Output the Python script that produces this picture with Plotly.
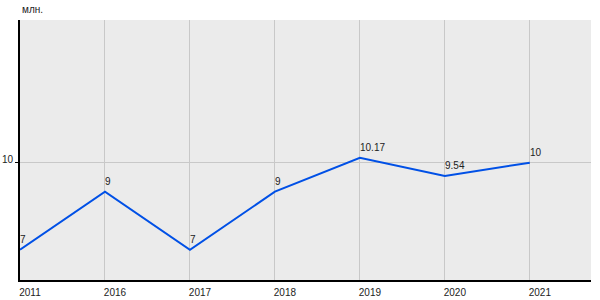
import plotly.graph_objects as go

years = ["2011", "2016", "2017", "2018", "2019", "2020", "2021"]
values = [7, 9, 7, 9, 10.17, 9.54, 10]
labels = ["7", "9", "7", "9", "10.17", "9.54", "10"]
unit = "млн."

fig = go.Figure()
fig.add_trace(go.Scatter(
    x=years, y=values, mode="lines",
    line=dict(color="#0050e6", width=2),
    cliponaxis=False, hoverinfo="skip",
))
annotations = [dict(text=unit, xref="paper", yref="paper", x=0, y=1,
                    xanchor="left", yanchor="bottom", yshift=3, showarrow=False,
                    font=dict(size=10, color="#222"))]
for i, (yv, t) in enumerate(zip(values, labels)):
    annotations.append(dict(x=i, y=yv, xref="x", yref="y", text=t, showarrow=False,
                            xanchor="left", yanchor="bottom", xshift=-2, yshift=3,
                            font=dict(family="Liberation Sans, Arial", size=10, color="#222")))
fig.update_layout(
    width=600, height=300,
    margin=dict(l=20, r=9, t=20, b=20),
    paper_bgcolor="white", plot_bgcolor="#ebebeb",
    showlegend=False,
    font=dict(family="Liberation Sans, Arial", size=10, color="#222"),
    annotations=annotations,
)
fig.update_xaxes(type="category", range=[0, 6.72], showgrid=True, gridcolor="#c8c8c8",
                 showline=True, linecolor="black", linewidth=2, ticks="",
                 ticklabelshift=10, ticklabelstandoff=2, zeroline=False, automargin=False)
fig.update_yaxes(range=[5.96, 14.91], tickvals=[10], showgrid=True, gridcolor="#c8c8c8",
                 showline=True, linecolor="black", linewidth=2, ticks="outside",
                 ticklen=3, tickcolor="black", zeroline=False, ticklabelstandoff=0,
                 ticklabelshift=-3, automargin=False)
fig.write_html("out.html")
